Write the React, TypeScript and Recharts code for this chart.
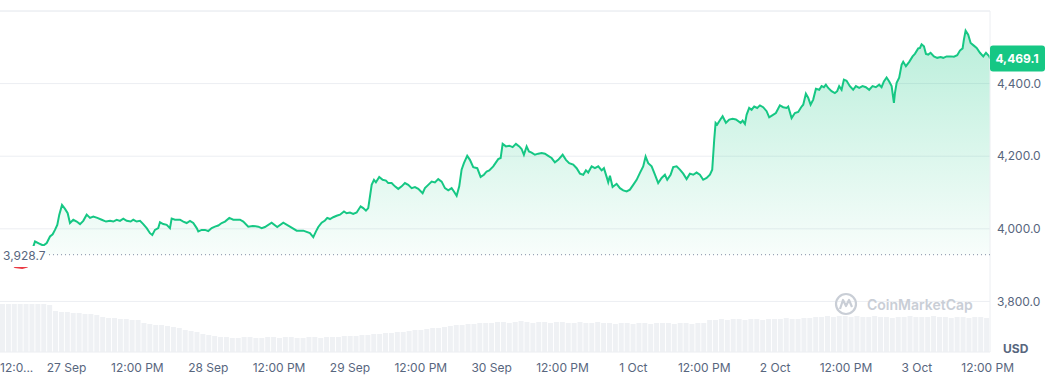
import { ComposedChart, BarChart, Area, Bar, XAxis, YAxis, CartesianGrid, ReferenceLine } from 'recharts';

// hours from 27 Sep 00:00
const priceHours = [
  -11.26, -9.9, -8.7, -7.5, -6.7, -5.8, -5.33, -4.6, -3.93, -3.35,
  -2.79, -2.34, -1.95, -1.56, -1.22, -0.76, -0.25, 0.2, 0.59, 1.15,
  1.73, 2.29, 2.84, 3.42, 3.98, 4.54, 5.22, 5.96, 6.69, 7.37,
  7.92, 8.5, 9.06, 9.62, 10.19, 10.87, 11.31, 11.89, 12.45, 13.0,
  13.58, 14.14, 14.53, 14.98, 15.54, 15.83, 16.39, 16.97, 17.52, 17.81,
  18.37, 19.22, 19.78, 20.35, 20.91, 21.47, 22.05, 22.32, 22.89, 23.45,
  24.01, 24.59, 25.14, 25.7, 26.28, 26.84, 27.57, 28.24, 28.82, 29.38,
  29.94, 30.78,
  31.53, 32.48, 33.05, 33.61, 34.74, 35.69, 36.71, 37.84, 38.98, 40.1,
  41.23, 41.79, 42.25, 42.64, 43.21, 43.77, 44.16, 44.62, 45.17, 45.75,
  46.31, 46.99, 47.44, 48.0, 48.56, 49.14, 49.81, 50.25, 50.71, 51.1,
  51.39, 51.68, 52.07, 52.4, 52.96, 53.54, 54.1, 54.49, 55.06, 55.62,
  56.18, 56.76, 57.31, 57.87, 58.45, 59.01, 59.57, 60.31, 60.7, 61.26,
  61.84, 62.39, 62.95, 63.53, 64.09, 64.65, 65.22, 65.61, 66.07, 66.51,
  66.91, 67.3, 67.86, 68.32, 68.88, 69.56, 70.13, 70.69, 71.15, 71.59,
  72.27, 73.11, 73.52, 73.86, 74.42, 74.98, 75.55, 76.11, 76.67, 77.07,
  77.46, 77.92, 78.31, 78.77, 79.33, 79.89, 80.46, 81.02, 81.58, 82.15,
  82.71, 83.27, 84.02, 84.58, 85.13, 85.81, 86.39, 86.95, 87.51, 87.96,
  88.35, 88.93, 89.49, 90.05, 90.62, 91.01, 91.47, 91.74, 92.03, 92.48,
  93.16, 93.72, 94.28, 94.86, 95.41, 95.97, 96.55, 97.11, 97.66, 98.07,
  98.51, 99.09, 99.65, 100.2, 100.78, 101.34, 101.73, 102.3, 102.74, 103.32,
  103.88, 104.44, 105.01, 105.57, 106.13, 106.7, 107.26, 107.82, 108.4, 108.96,
  109.35, 109.69, 109.92, 110.19, 110.65, 111.11, 111.67, 112.23,
  112.8, 113.36, 114.16, 114.5, 114.89, 115.17, 115.61, 116.02, 116.46, 116.97,
  117.43, 117.98, 118.56, 119.0, 119.58, 120.13, 120.81, 121.37, 121.95, 122.22,
  122.79, 123.35, 123.91, 124.49, 124.76, 125.21, 125.6, 126.01, 126.45, 126.91,
  127.47, 127.87, 128.26, 128.6, 128.99, 129.56, 130.12, 130.51, 130.85, 131.26,
  131.65, 132.1, 132.66, 133.22, 133.68, 134.24, 134.81, 135.37, 135.93, 136.5,
  137.06, 137.62, 138.03, 138.42, 138.88, 139.32, 139.73, 140.0, 140.12, 140.29,
  140.58, 141.01, 141.42, 141.69, 142.15, 142.71, 143.28, 143.67, 144.23, 144.52,
  144.81, 145.2, 145.54, 145.93, 146.33, 146.89, 147.45, 148.03, 148.47, 149.05,
  149.72, 150.28, 150.84, 151.3, 151.75, 151.97, 152.26, 152.7, 153.11, 153.55,
  154.13, 154.69, 155.25, 155.71, 156.27, 156.39,
];

const priceValues = [
  3928.7, 3912, 3895, 3892, 3896, 3942, 3965, 3959, 3954, 3961,
  3979, 3985, 3997, 4011, 4039, 4066, 4055, 4043, 4016, 4025,
  4020, 4013, 4022, 4039, 4030, 4034, 4030, 4025, 4020, 4022,
  4020, 4025, 4022, 4028, 4022, 4020, 4025, 4020, 4022, 4013,
  4002, 3988, 3983, 3997, 4002, 4018, 4013, 4011, 4002, 4028,
  4025, 4025, 4020, 4016, 4022, 4016, 4002, 3993, 3997, 3997,
  3994, 4002, 4006, 4009, 4016, 4020, 4030, 4025, 4025, 4025,
  4020, 4006,
  4008, 4006, 4002, 4005, 4017, 4005, 4017, 4006, 3995, 3995,
  3988, 3977, 3993, 4005, 4017, 4023, 4030, 4027, 4032, 4036,
  4039, 4048, 4043, 4045, 4041, 4045, 4062, 4057, 4050, 4057,
  4089, 4121, 4135, 4128, 4143, 4135, 4133, 4126, 4126, 4117,
  4110, 4117, 4126, 4121, 4112, 4115, 4110, 4098, 4112, 4121,
  4130, 4128, 4137, 4130, 4112, 4106, 4112, 4103, 4091, 4117,
  4163, 4181, 4201, 4190, 4170, 4167, 4143, 4149, 4158, 4161,
  4172, 4192, 4195, 4234, 4227, 4229, 4225, 4234, 4227, 4220,
  4204, 4227, 4213, 4210, 4204, 4207, 4209, 4207, 4201, 4195,
  4183, 4190, 4204, 4190, 4181, 4177, 4167, 4152, 4149, 4161,
  4155, 4172, 4167, 4172, 4161, 4167, 4143, 4128, 4146, 4115,
  4124, 4112, 4106, 4103, 4108, 4121, 4135, 4154, 4172, 4199,
  4181, 4172, 4149, 4126, 4140, 4149, 4135, 4149, 4170, 4172,
  4163, 4152, 4137, 4152, 4149, 4155, 4149, 4135, 4140, 4149,
  4163, 4246, 4292, 4287, 4299, 4310, 4292, 4301,
  4303, 4301, 4292, 4298, 4289, 4314, 4333, 4328, 4337, 4333,
  4340, 4335, 4324, 4307, 4313, 4319, 4340, 4335, 4333, 4337,
  4305, 4319, 4322, 4337, 4342, 4372, 4361, 4342, 4356, 4386,
  4383, 4393, 4390, 4397, 4388, 4379, 4374, 4379, 4393, 4383,
  4411, 4408, 4393, 4383, 4393, 4388, 4393, 4390, 4383, 4393,
  4390, 4397, 4390, 4406, 4417, 4406, 4393, 4361, 4347, 4374,
  4402, 4416, 4452, 4460, 4448, 4460, 4475, 4482, 4497, 4498,
  4508, 4503, 4482, 4480, 4485, 4475, 4471, 4473, 4471, 4475,
  4475, 4474, 4478, 4491, 4497, 4521, 4546, 4535, 4512, 4506,
  4498, 4485, 4475, 4485, 4475, 4469.1,
];

// hourly volume (relative), first bar at hour -11
const volumeStart = -11;
const volumes = [
  48, 48, 48, 48, 48, 48, 48, 48,
  47, 41, 40,
  40, 39, 39, 38, 38, 37, 35, 34, 34, 33, 33, 32, 32,
  29, 28, 27, 27, 26, 25, 24, 22, 21, 20, 18, 17, 16,
  15, 15, 14, 14, 15, 15, 14, 14, 15, 15, 14, 15, 15, 14, 14, 15, 15, 14, 15,
  15, 15, 16, 16, 16, 17, 17, 18, 18, 19, 19, 20, 20, 21,
  22, 22, 23, 24, 24, 25, 26, 27, 27, 28, 28, 29, 29, 29,
  30, 30, 29, 30, 31, 30, 29, 30, 30, 29, 30, 30, 29, 29, 30, 29, 29, 30,
  29, 29, 28, 29, 29, 28, 29, 29, 28, 29, 29, 29, 28, 29, 29, 28, 29, 29,
  32, 32, 33, 32, 33, 33, 32, 33, 33, 32, 33, 33, 33, 34, 33, 33, 34, 34,
  35, 35, 36, 35, 36, 36, 35, 36, 35, 35, 36, 35, 35, 34, 35,
  35, 36, 35, 35, 35, 36, 35, 35, 34, 35, 35, 34, 35, 35, 34,
];

const openPrice = 3928.7;
const lastPrice = 4469.1;
const xMin = -11.26;
const xMax = 156.39;
const xTicks = [xMin, 0, 12, 24, 36, 48, 60, 72, 84, 96, 108, 120, 132, 144, 156];
const dayLabels: Record<number, string> = {
  0: '27 Sep', 24: '28 Sep', 48: '29 Sep', 72: '30 Sep', 96: '1 Oct', 120: '2 Oct', 144: '3 Oct',
};
const priceTicks = [3800, 4000, 4200, 4400];

const priceRows = priceHours.map((t, i) => ({ t, price: priceValues[i] }));
const volumeRows = volumes.map((v, i) => ({ t: volumeStart + i, vol: v }));

const pMax = Math.max(...priceValues);
const pMin = Math.min(...priceValues);
const splitOff = (pMax - openPrice) / (pMax - pMin);

const GREEN = '#16c784';
const RED = '#ea3943';
const AXIS = '#58667e';
const GRID = '#eceef2';
const MARGIN = { top: 11, right: 0, bottom: 0, left: 0 };

function XTick({ x, y, payload }: any) {
  const v = payload.value;
  const first = v < 0;
  const label = first ? '12:0...' : v % 24 === 0 ? dayLabels[v] : '12:00 PM';
  return (
    <text x={first ? 0 : x} y={y} dy={12} textAnchor={first ? 'start' : 'middle'} fill={AXIS} fontSize={12}>
      {label}
    </text>
  );
}

function PriceBadge({ viewBox }: any) {
  const right = viewBox.x + viewBox.width;
  return (
    <g>
      <rect x={right} y={viewBox.y - 13} width={55} height={26} rx={3} fill={GREEN} />
      <text x={right + 27} y={viewBox.y} dy={4.5} textAnchor="middle" fill="#fff" fontSize={12} fontWeight={700}>
        {lastPrice.toLocaleString('en-US', { minimumFractionDigits: 1 })}
      </text>
    </g>
  );
}

export default function App() {
  return (
    <div style={{ position: 'absolute', left: 0, top: 0, width: 1048, height: 376, background: '#fff', fontFamily: 'Inter, sans-serif' }}>
      <svg width={0} height={0} style={{ position: 'absolute' }}>
        <defs>
          <linearGradient id="priceStroke" x1="0" y1="0" x2="0" y2="1">
            <stop offset={splitOff} stopColor={GREEN} />
            <stop offset={splitOff} stopColor={RED} />
          </linearGradient>
          <linearGradient id="priceFill" x1="0" y1="0" x2="0" y2="1">
            <stop offset={0} stopColor={GREEN} stopOpacity={0.3} />
            <stop offset={splitOff} stopColor={GREEN} stopOpacity={0.03} />
            <stop offset={splitOff} stopColor={RED} stopOpacity={0.03} />
            <stop offset={1} stopColor={RED} stopOpacity={0.1} />
          </linearGradient>
        </defs>
      </svg>

      {/* volume underneath; hidden axes take no room, so margins hold the plot box */}
      <div style={{ position: 'absolute', left: 0, top: 0 }}>
        <BarChart width={1048} height={376} data={volumeRows} margin={{ top: 11, right: 58, bottom: 24, left: 0 }} barCategoryGap={0}>
          <XAxis dataKey="t" type="category" hide />
          <YAxis hide domain={[0, 341]} />
          <Bar dataKey="vol" fill="#eff1f4" barSize={5} isAnimationActive={false} />
        </BarChart>
      </div>

      <div style={{ position: 'absolute', left: 0, top: 0 }}>
        <ComposedChart width={1048} height={376} data={priceRows} margin={MARGIN}>
          <CartesianGrid vertical={false} stroke={GRID} />
          <XAxis
            dataKey="t"
            type="number"
            domain={[xMin, xMax]}
            allowDataOverflow
            ticks={xTicks}
            interval={0}
            height={24}
            axisLine={false}
            tickLine={false}
            tick={<XTick />}
          />
          <YAxis
            orientation="right"
            width={58}
            domain={[3660.7, 4600]}
            allowDataOverflow
            ticks={priceTicks}
            axisLine={false}
            tickLine={false}
            tickSize={0}
            tickMargin={7}
            tick={{ fill: AXIS, fontSize: 12, textAnchor: 'start' }}
            tickFormatter={(v: number) => v.toLocaleString('en-US', { minimumFractionDigits: 1 })}
          />
          <ReferenceLine y={4600} stroke={GRID} />
          <ReferenceLine x={xMax} stroke={GRID} />
          <ReferenceLine y={openPrice} stroke="#9aa4b6" strokeWidth={1.3} strokeDasharray="1 3" />
          <Area
            type="linear"
            dataKey="price"
            baseValue={openPrice}
            stroke="url(#priceStroke)"
            strokeWidth={2}
            fill="url(#priceFill)"
            fillOpacity={1}
            dot={false}
            activeDot={false}
            isAnimationActive={false}
          />
          <ReferenceLine y={lastPrice} stroke="none" ifOverflow="visible" label={<PriceBadge />} />
        </ComposedChart>
      </div>

      <div style={{ position: 'absolute', left: 0, top: 246, width: 46, height: 21, background: '#fff', color: AXIS, fontSize: 12, lineHeight: '19px', paddingLeft: 3, boxSizing: 'border-box' }}>
        {openPrice.toLocaleString('en-US', { minimumFractionDigits: 1 })}
      </div>
      <div style={{ position: 'absolute', left: 1003, top: 341, color: AXIS, fontSize: 12, fontWeight: 700 }}>USD</div>
      <svg style={{ position: 'absolute', left: 830, top: 290 }} width={158} height={28}>
        <circle cx={16} cy={14} r={10} fill="none" stroke="#c9ced6" strokeWidth={2.2} />
        <path d="M10 19 L13 10 L16 16 L19 10 L22 17" fill="none" stroke="#c9ced6" strokeWidth={2.2} strokeLinejoin="round" />
        <text x={37} y={20} fill="#c9ced6" fontSize={14} fontWeight={600}>CoinMarketCap</text>
      </svg>
    </div>
  );
}
